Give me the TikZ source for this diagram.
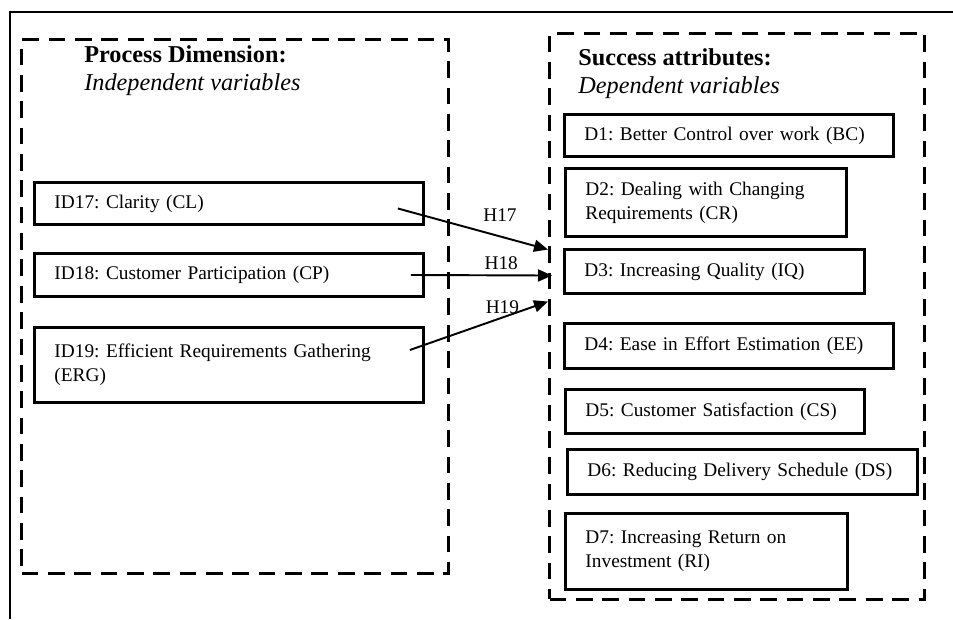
\documentclass[tikz,border=0pt]{standalone}
\usepackage{fontspec}
\setmainfont{Liberation Serif}
\usetikzlibrary{positioning,arrows.meta,calc}
\frenchspacing

\begin{document}
\begin{tikzpicture}[
    x=0.02cm, y=-0.02cm,
    framebox/.style={
      draw,
      line width=1.8pt,
      dash pattern=on 9.5pt off 5.5pt,
      anchor=north west
    },
    varbox/.style={
      draw,
      line width=1.7pt,
      anchor=north west,
      inner xsep=0.4cm,
      inner ysep=0pt,
      align=left,
      font=\fontsize{11}{13.6}\selectfont
    },
    titletext/.style={
      anchor=base west,
      align=left,
      inner sep=0pt,
      font=\fontsize{13.8}{15.4}\selectfont
    },
    hyparrow/.style={
      -{Triangle[length=2.8mm,width=2.4mm]},
      line width=1.1pt
    },
    hyplabel/.style={
      font=\fontsize{11}{13}\selectfont
    }
  ]

  \useasboundingbox (0,0) rectangle (953,619);

  % outer frame, only top and left edges visible
  \draw[line width=1.7pt] (10,619) -- (10,12) -- (953,12);

  % dashed groups
  \node[framebox, minimum width=8.54cm, minimum height=10.68cm] (procframe) at (20,38) {};
  \node[framebox, minimum width=7.5cm, minimum height=11.32cm] (succframe) at (548,32) {};

  \node[titletext] (proctitle) at (84,90) {\textbf{Process Dimension:}\\\textit{Independent variables}};
  \node[titletext] (succtitle) at (578,93) {\textbf{Success attributes:}\\\textit{Dependent variables}};

  % independent variables
  \node[varbox, text width=6.98cm, minimum height=0.84cm] (cl) at (33,181) {ID17: Clarity (CL)};
  \node[varbox, text width=6.98cm, minimum height=0.86cm] (cp) at (33,252) {ID18: Customer Participation (CP)};
  \node[varbox, text width=6.98cm, minimum height=1.5cm] (erg) at (33,326) {ID19: Efficient Requirements Gathering\\(ERG)};

  % dependent variables
  \node[varbox, text width=5.78cm, minimum height=0.84cm] (bc) at (563,113) {D1: Better Control over work (BC)};
  \node[varbox, text width=4.82cm, minimum height=1.36cm] (cr) at (564,167) {D2: Dealing with Changing\\Requirements (CR)};
  \node[varbox, text width=5.2cm, minimum height=0.88cm] (iq) at (563,248) {D3: Increasing Quality (IQ)};
  \node[varbox, text width=5.78cm, minimum height=0.9cm] (ee) at (563,322) {D4: Ease in Effort Estimation (EE)};
  \node[varbox, text width=5.18cm, minimum height=0.88cm] (cs) at (564,388) {D5: Customer Satisfaction (CS)};
  \node[varbox, text width=6.2cm, minimum height=0.9cm] (ds) at (566,448) {D6: Reducing Delivery Schedule (DS)};
  \node[varbox, text width=4.84cm, minimum height=1.52cm] (ri) at (564,512) {D7: Increasing Return on\\Investment (RI)};

  % hypotheses
  \coordinate (clout) at ($(cl.east)+(-27,5)$);
  \coordinate (cpout) at ($(cp.east)+(-14,0)$);
  \coordinate (ergout) at ($(erg.east)+(-15,-15)$);
  \coordinate (succin1) at ($(succframe.west)+(0,-67)$);
  \coordinate (succin2) at ($(succframe.west)+(4,-41)$);
  \coordinate (succin3) at ($(succframe.west)+(0,-15)$);

  \draw[hyparrow] (clout) -- node[hyplabel, pos=0.68, yshift=0.42cm] {H17} (succin1);
  \draw[hyparrow] (cpout) -- node[hyplabel, pos=0.64, yshift=0.24cm] {H18} (succin2);
  \draw[hyparrow] (ergout) -- node[hyplabel, pos=0.67, yshift=0.2cm] {H19} (succin3);

\end{tikzpicture}
\end{document}
